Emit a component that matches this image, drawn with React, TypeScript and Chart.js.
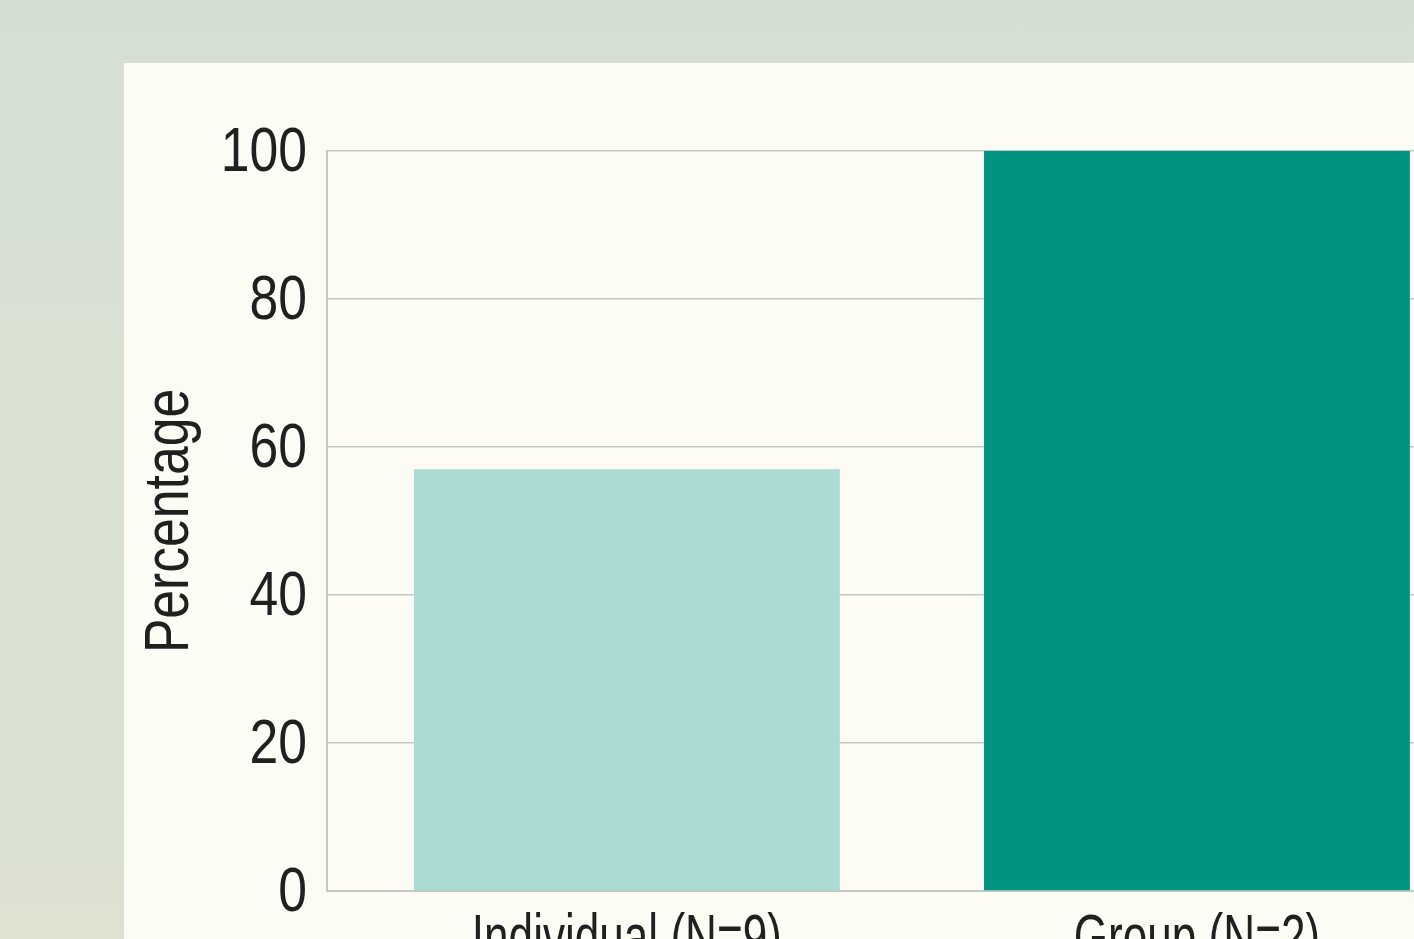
import React, { useEffect, useRef } from "react";
import { Chart, registerables } from "chart.js";

Chart.register(...registerables);

const categories: string[] = ["Individual (N=9)", "Group (N=2)"];
const categoryIndex: number[] = [0, 1];
const percentages: number[] = [57, 100];
const barColors: string[] = ["#aadbd5", "#009480"];
const yTicks: number[] = [0, 20, 40, 60, 80, 100];
const yTitle = "Percentage";

const FONT_FAMILY = "'Liberation Sans', Arial, sans-serif";
const FONT_SIZE = 63;
const NARROW = 0.82;
const NARROW_X = 0.7;
const TEXT = "#231f20";
const GRID = "#c2c9c0";

const narrowTextPlugin = {
  id: "narrowText",
  afterDraw(chart: any) {
    const ctx: CanvasRenderingContext2D = chart.ctx;
    const xs = chart.scales.x;
    const ys = chart.scales.y;
    const area = chart.chartArea;
    ctx.save();
    ctx.fillStyle = TEXT;
    ctx.font = `${FONT_SIZE}px ${FONT_FAMILY}`;
    ctx.textBaseline = "alphabetic";

    // y tick labels
    ctx.textAlign = "right";
    yTicks.forEach((v) => {
      const py = ys.getPixelForValue(v);
      ctx.save();
      ctx.translate(area.left - 20, py + 20);
      ctx.scale(NARROW, 1);
      ctx.fillText(String(v), 0, 0);
      ctx.restore();
    });

    // x category labels
    ctx.textAlign = "center";
    categories.forEach((c, i) => {
      const px = xs.getPixelForValue(categoryIndex[i]);
      ctx.save();
      ctx.translate(px, area.bottom + 67);
      ctx.scale(NARROW_X, 1);
      ctx.fillText(c, 0, 0);
      ctx.restore();
    });

    // y title
    ctx.save();
    ctx.translate(64, (area.top + area.bottom) / 2);
    ctx.rotate(-Math.PI / 2);
    ctx.scale(NARROW, 1);
    ctx.textAlign = "center";
    ctx.fillText(yTitle, 0, 0);
    ctx.restore();

    ctx.restore();
  },
};

export default function App() {
  const ref = useRef<HTMLCanvasElement | null>(null);

  useEffect(() => {
    if (!ref.current) return;
    const chart = new Chart(ref.current, {
      type: "bar",
      data: {
        datasets: [
          {
            data: percentages.map((y, i) => ({ x: categoryIndex[i], y })),
            backgroundColor: barColors,
            borderWidth: 0,
            barPercentage: 0.747,
            categoryPercentage: 1,
          },
        ],
      },
      plugins: [narrowTextPlugin],
      options: {
        responsive: false,
        animation: false,
        layout: { padding: { top: 88, right: 17, left: 0, bottom: 0 } },
        plugins: { legend: { display: false }, tooltip: { enabled: false } },
        scales: {
          x: {
            type: "linear",
            offset: false,
            min: -0.526,
            max: 1.5,
            afterBuildTicks: (s: any) => {
              s.ticks = categoryIndex.map((v) => ({ value: v }));
            },
            grid: { display: false, drawTicks: false },
            border: { display: true, color: GRID, width: 2 },
            ticks: { display: false },
            afterFit: (s: any) => {
              s.height = 110;
            },
          },
          y: {
            min: 0,
            max: 100,
            afterBuildTicks: (s: any) => {
              s.ticks = yTicks.map((v) => ({ value: v }));
            },
            grid: { color: GRID, lineWidth: 1.5, drawTicks: false },
            border: { display: true, color: GRID, width: 2 },
            ticks: { display: false },
            afterFit: (s: any) => {
              s.width = 203;
            },
          },
        },
      },
    } as any);
    return () => chart.destroy();
  }, []);

  return (
    <div
      style={{
        position: "fixed",
        inset: 0,
        overflow: "hidden",
        background: "linear-gradient(to bottom, #d4dfd2 0%, #d9e1d2 50%, #dde2d1 100%)",
      }}
    >
      <div
        style={{
          position: "absolute",
          left: 124,
          top: 63,
          width: 1400,
          height: 1000,
          background: "#fcfcf5",
        }}
      >
        <canvas ref={ref} width={1375} height={938} style={{ display: "block" }} />
      </div>
    </div>
  );
}
